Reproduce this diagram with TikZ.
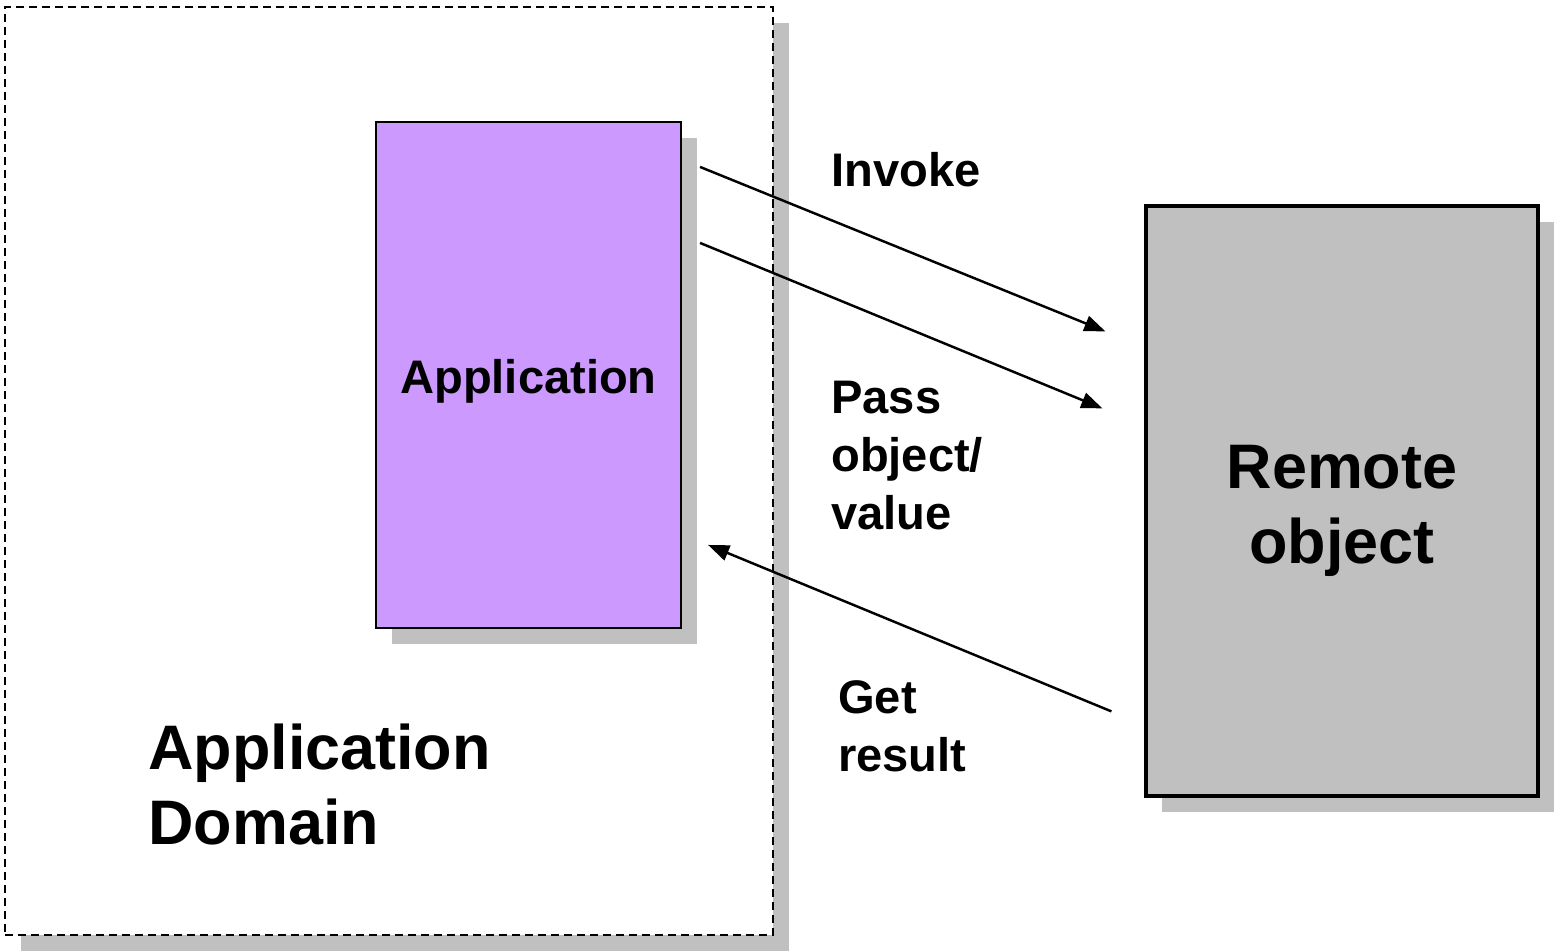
\documentclass[tikz,border=0pt]{standalone}
\usepackage{fontspec}
\setmainfont{Liberation Sans}
\usetikzlibrary{arrows.meta,shadows}
\definecolor{apppurple}{HTML}{CC99FF}
\definecolor{remotegray}{HTML}{C0C0C0}
\definecolor{shadowgray}{HTML}{C0C0C0}

\begin{document}
\begin{tikzpicture}[>={Triangle[length=6pt,width=4.5pt]}, line width=0.7pt,
    boxshadow/.style={drop shadow={shadow xshift=0.16cm, shadow yshift=-0.16cm, fill=shadowgray, opacity=1}},
    smalltext/.style={font=\fontsize{13.4}{16.5}\selectfont\bfseries, inner sep=0pt, align=left},
    bigtext/.style={font=\fontsize{17.9}{21.6}\selectfont\bfseries, inner sep=0pt}]
  \useasboundingbox (0,0) rectangle (15.56,9.51);
  % the two sides
  \node[draw, dashed, dash pattern=on 2.3pt off 1.4pt, line width=0.55pt, fill=white, boxshadow,
        minimum width=7.68cm, minimum height=9.28cm] (domain) at (3.89,4.80) {};
  \node[draw, line width=0.6pt, fill=apppurple, boxshadow, minimum width=3.05cm, minimum height=5.06cm,
        font=\fontsize{13.4}{16.5}\selectfont\bfseries, text height=13.2pt, text depth=2.8pt] (app) at (5.285,5.76) {Application};
  \node[draw, line width=0.9pt, fill=remotegray, boxshadow, minimum width=3.92cm, minimum height=5.90cm,
        font=\fontsize{17.9}{21.3}\selectfont\bfseries, align=center, text height=39.5pt, text depth=3.8pt] (remote) at (13.42,4.50) {Remote\\object};
  \node[bigtext, align=left, anchor=base west] (domainlabel) at (1.47,1.06) {Application\\Domain};
  % calls
  \coordinate (invokeS) at ([shift={(0.18,-0.46)}]app.north east);
  \coordinate (invokeE) at ([shift={(-0.39,-1.27)}]remote.north west);
  \coordinate (passS) at ([shift={(0.18,-1.22)}]app.north east);
  \coordinate (passE) at ([shift={(-0.42,-2.04)}]remote.north west);
  \coordinate (resultS) at ([shift={(-0.33,-5.07)}]remote.north west);
  \coordinate (resultE) at ([shift={(0.26,-4.24)}]app.north east);
  \draw[->] (invokeS) -- (invokeE);
  \draw[->] (passS) -- (passE);
  \draw[->] (resultS) -- (resultE);
  \node[smalltext, anchor=base west] (invoke) at (8.30,7.64) {Invoke};
  \node[smalltext, anchor=base west] (pass) at (8.30,4.21) {Pass\\object/\\value};
  \node[smalltext, anchor=base west] (result) at (8.37,1.79) {Get\\result};
\end{tikzpicture}
\end{document}
